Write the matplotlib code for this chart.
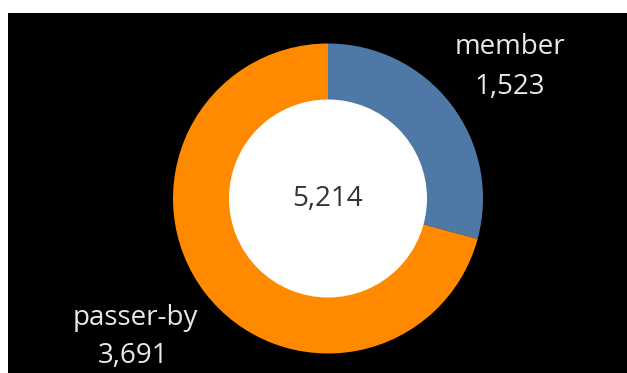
import matplotlib.pyplot as plt
from matplotlib.patches import Rectangle, Circle

plt.rcParams['font.family'] = ['Open Sans', 'DejaVu Sans']

# 数据
labels = ['member', 'passer-by']
values = [1523, 3691]
colors = ['#4e79a7', '#ff8a00']
total = sum(values)

fig = plt.figure(figsize=(6.27, 3.73), dpi=100, facecolor='white')
ax = fig.add_axes([0, 0, 1, 1])
ax.set_axis_off()

# 黑色背景（左侧和顶部留白）
ax.add_patch(Rectangle((8, 0), 619, 360, facecolor='black', edgecolor='none', zorder=0))

# 环形图
R = 155
cx, cy = 328, 174.5
ax.pie(values, colors=colors, startangle=90, counterclock=False,
       radius=R, center=(cx, cy),
       wedgeprops=dict(width=R * 0.37, edgecolor='none'))
ax.add_patch(Circle((cx, cy), 99, facecolor='white', edgecolor='none', zorder=5))

ax.set_xlim(0, 627)
ax.set_ylim(0, 373)
ax.set_aspect('auto')

# 标签
fs = 20
ax.text(cx, cy, f'{total:,}', ha='center', va='center', fontsize=fs, color='#333333', zorder=6)
ax.text(510, 319, labels[0], ha='center', va='baseline', fontsize=fs, color='#e8e8e8')
ax.text(510, 279, f'{values[0]:,}', ha='center', va='baseline', fontsize=fs, color='#e8e8e8')
ax.text(135, 48, labels[1], ha='center', va='baseline', fontsize=fs, color='#e8e8e8')
ax.text(133, 10, f'{values[1]:,}', ha='center', va='baseline', fontsize=fs, color='#e8e8e8')

plt.savefig('out.png', dpi=100, facecolor='white')
